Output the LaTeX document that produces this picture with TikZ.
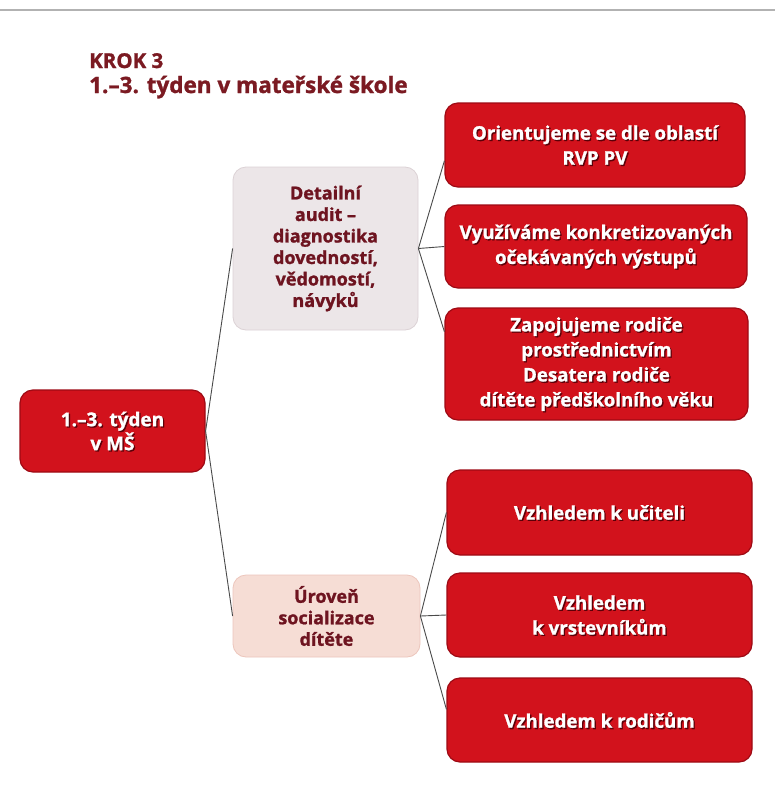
\documentclass[tikz,border=0pt]{standalone}
\usepackage{fontspec}
\setmainfont{Open Sans}[BoldFeatures={FakeBold=1.2}]
\usetikzlibrary{positioning}
\definecolor{boxred}{HTML}{D2121C}
\definecolor{boxredd}{HTML}{9E0A14}
\definecolor{shadowc}{HTML}{5A0008}
\definecolor{maroon}{HTML}{6E1420}
\definecolor{titlec}{HTML}{7B1A22}
\definecolor{grayfill}{HTML}{ECE6E8}
\definecolor{grayedge}{HTML}{DCD2D5}
\definecolor{pinkfill}{HTML}{F6DDD5}
\definecolor{pinkedge}{HTML}{EDC6BC}
\definecolor{linec}{HTML}{4A4A4A}
\newcommand\shd[1]{\leavevmode\rlap{\kern1.3pt\raisebox{-1.3pt}[0pt][0pt]{\textcolor{shadowc}{#1}}}#1}
\tikzset{
  redbox/.style={rectangle, rounded corners=13pt, fill=boxred, draw=boxredd, line width=1.2pt,
    text=white, font=\bfseries\fontsize{18.7}{25}\selectfont, align=center, inner sep=0pt},
  midbox/.style={rectangle, rounded corners=13pt, line width=0.8pt,
    text=maroon, font=\bfseries\fontsize{18}{21.5}\selectfont, align=center, inner sep=0pt},
  titletext/.style={anchor=base west, inner sep=0pt, text=titlec, font=\bfseries\fontsize{20.5}{25}\selectfont},
  conn/.style={draw=linec, line width=0.9pt}
}
\begin{document}
\begin{tikzpicture}[x=1pt,y=-1pt]
\useasboundingbox (0,0) rectangle (775,796);
\fill[white] (0,0) rectangle (775,796);
\draw[line width=2pt, draw=black!30] (0,10) -- (775,10);

\node[titletext] (t1) at (89,68) {KROK 3};
\node[titletext, font=\bfseries\fontsize{22.5}{25}\selectfont] (t2) at (89,93) {1.–3. týden v mateřské škole};

\node[redbox, minimum width=185pt, minimum height=82pt, font=\bfseries\fontsize{19}{24}\selectfont] (root) at (112.5,431)
  {\shd{1.–3. týden}\\\shd{v MŠ}};

\node[midbox, fill=grayfill, draw=grayedge, minimum width=185pt, minimum height=163pt] (audit) at (325.5,248.5)
  {Detailní\\audit –\\diagnostika\\dovedností,\\vědomostí,\\návyků};
\node[midbox, fill=pinkfill, draw=pinkedge, minimum width=187pt, minimum height=82pt] (soc) at (326.5,616)
  {Úroveň\\socializace\\dítěte};

\node[redbox, minimum width=300pt, minimum height=84pt] (b1) at (595,145)
  {\shd{Orientujeme se dle oblastí}\\\shd{RVP PV}};
\node[redbox, minimum width=302pt, minimum height=83pt] (b2) at (596,246.5)
  {\shd{Využíváme konkretizovaných}\\\shd{očekávaných výstupů}};
\node[redbox, minimum width=303pt, minimum height=112pt] (b3) at (596.5,364)
  {\shd{Zapojujeme rodiče}\\\shd{prostřednictvím}\\\shd{Desatera rodiče}\\\shd{dítěte předškolního věku}};
\node[redbox, minimum width=305pt, minimum height=85pt] (b4) at (599.5,512.5)
  {\shd{Vzhledem k učiteli}};
\node[redbox, minimum width=305pt, minimum height=84pt] (b5) at (599.5,615)
  {\shd{Vzhledem}\\\shd{k vrstevníkům}};
\node[redbox, minimum width=305pt, minimum height=84pt] (b6) at (599.5,720)
  {\shd{Vzhledem k rodičům}};

\draw[conn] (root.east) -- (audit.west);
\draw[conn] (root.east) -- (soc.west);
\draw[conn] (audit.east) -- (b1.186);
\draw[conn] (audit.east) -- (b2.west);
\draw[conn] (audit.east) -- (b3.168);
\draw[conn] (soc.east) -- (b4.west);
\draw[conn] (soc.east) -- (b5.west);
\draw[conn] (soc.east) -- (b6.176);
\end{tikzpicture}
\end{document}
